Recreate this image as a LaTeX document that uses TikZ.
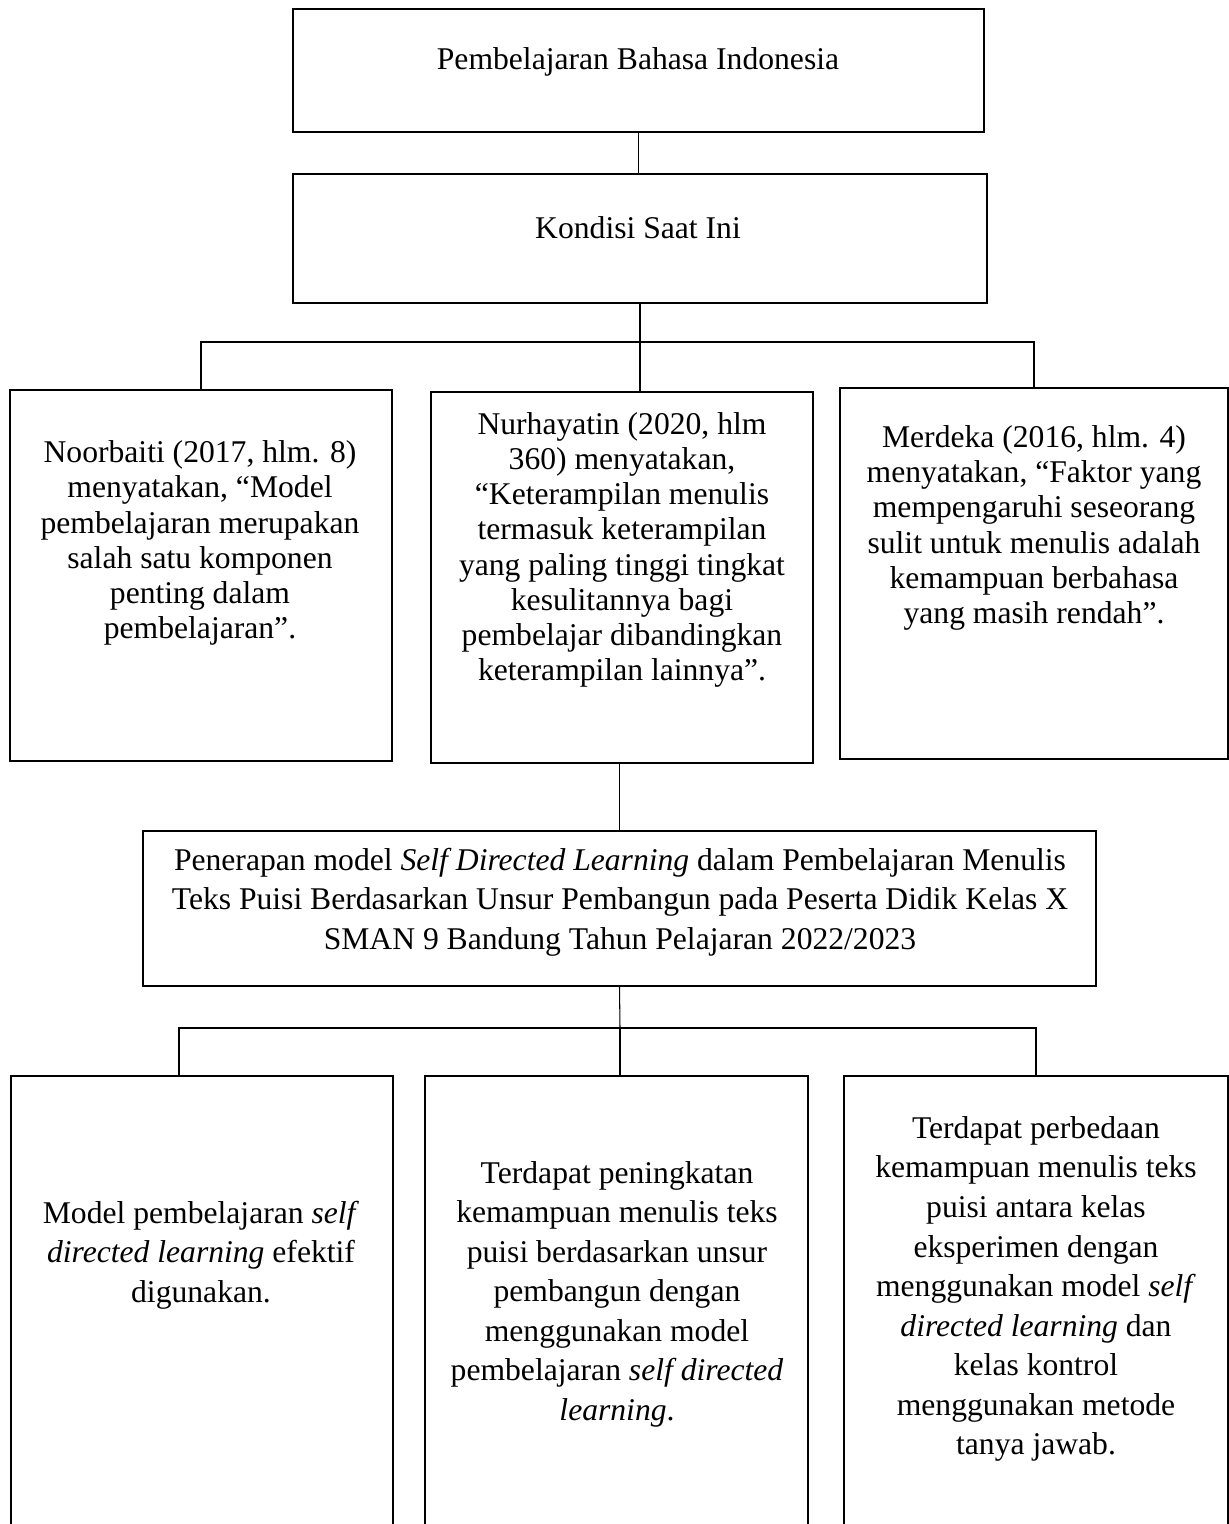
\documentclass[tikz,border=0pt]{standalone}
\usepackage{fontspec}
\setmainfont{Liberation Serif}
\usetikzlibrary{positioning, fit}

\begin{document}
\begin{tikzpicture}[x=0.02cm, y=-0.02cm,
  kotak/.style={draw, line width=1.1pt, inner sep=0pt},
  teks/.style={align=center, inner sep=0pt, font=\fontsize{18}{20}\selectfont},
  teksb/.style={teks, font=\fontsize{18}{22.5}\selectfont},
  garis/.style={line width=0.6pt}]
\clip (0,0) rectangle (1229,1524);

\node[kotak, fit={(293,9) (984,132)}] (pbi) {};
\node[teks] (pbi-t) at (638,62) {Pembelajaran Bahasa Indonesia};

\node[kotak, fit={(293,174) (987,303)}] (kondisi) {};
\node[teks] (kondisi-t) at (638,228) {Kondisi Saat Ini};

\node[kotak, fit={(10,390) (392,761)}] (noor) {};
\node[teks] (noor-t) at (200,543) {Noorbaiti (2017, hlm. 8)\\ menyatakan, “Model\\ pembelajaran merupakan\\ salah satu komponen\\ penting dalam\\ pembelajaran”.};

\node[kotak, fit={(431,392) (813,763)}] (nurh) {};
\node[teks] (nurh-t) at (622,550) {Nurhayatin (2020, hlm\\ 360) menyatakan,\\ “Keterampilan menulis\\ termasuk keterampilan\\ yang paling tinggi tingkat\\ kesulitannya bagi\\ pembelajar dibandingkan\\ keterampilan lainnya”.};

\node[kotak, fit={(840,388) (1228,759)}] (merd) {};
\node[teks] (merd-t) at (1034,528) {Merdeka (2016, hlm. 4)\\ menyatakan, “Faktor yang\\ mempengaruhi seseorang\\ sulit untuk menulis adalah\\ kemampuan berbahasa\\ yang masih rendah”.};

\node[kotak, fit={(143,831) (1096,986)}] (terap) {};
\node[teksb] (terap-t) at (620,902) {Penerapan model \textit{Self Directed Learning} dalam Pembelajaran Menulis\\ Teks Puisi Berdasarkan Unsur Pembangun pada Peserta Didik Kelas X\\ SMAN 9 Bandung Tahun Pelajaran 2022/2023};

\node[kotak, fit={(11,1076) (393,1540)}] (efektif) {};
\node[teksb] (efektif-t) at (201,1255) {Model pembelajaran \textit{self}\\ \textit{directed learning} efektif\\ digunakan.};

\node[kotak, fit={(425,1076) (808,1540)}] (ningkat) {};
\node[teksb] (ningkat-t) at (617,1294) {Terdapat peningkatan\\ kemampuan menulis teks\\ puisi berdasarkan unsur\\ pembangun dengan\\ menggunakan model\\ pembelajaran \textit{self directed}\\ \textit{learning}.};

\node[kotak, fit={(844,1076) (1228,1540)}] (beda) {};
\node[teksb] (beda-t) at (1036,1289) {Terdapat perbedaan\\ kemampuan menulis teks\\ puisi antara kelas\\ eksperimen dengan\\ menggunakan model \textit{self}\\ \textit{directed learning} dan\\ kelas kontrol\\ menggunakan metode\\ tanya jawab.};

\coordinate (j1) at (639,342);
\coordinate (j2) at (620,1028);

\draw[garis] (pbi.south) -- (pbi.south |- kondisi.north);
\draw[garis] (kondisi.south) -- (kondisi.south |- nurh.north);
\draw[garis] (noor.north) |- (j1) -| (merd.north);
\draw[garis] (terap.north |- nurh.south) -- (terap.north);
\draw[garis] (terap.south) -- (j2);
\draw[garis] ([xshift=-0.46cm]efektif.north) |- (j2) -| (beda.north);
\draw[garis] (j2) -- (j2 |- ningkat.north);
\end{tikzpicture}
\end{document}
